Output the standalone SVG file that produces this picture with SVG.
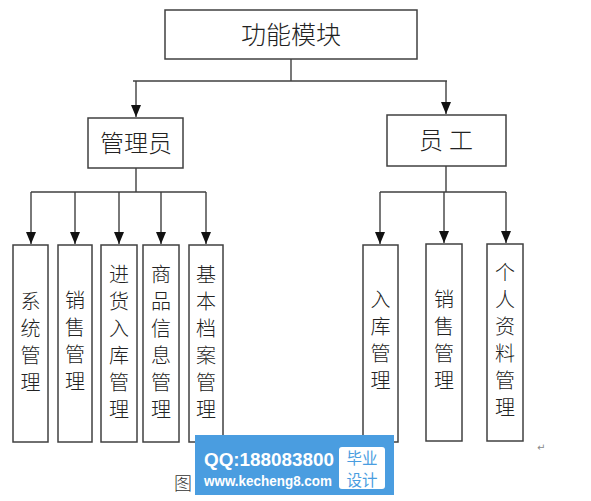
<svg xmlns="http://www.w3.org/2000/svg" width="591" height="501" viewBox="0 0 591 501">
<style>
.box{fill:#fff;stroke:#404040;stroke-width:1.5}
.ln{fill:none;stroke:#404040;stroke-width:1.4}
.t{font-family:"Noto Sans CJK SC",sans-serif;font-weight:300;fill:#222;text-anchor:middle}
.big{font-size:25px}
.mid{font-size:24px}
.v{font-size:20px}
</style>
<defs>
<marker id="ah" viewBox="0 0 12 10" refX="12" refY="5" markerWidth="12" markerHeight="10" markerUnits="userSpaceOnUse" orient="auto">
<path d="M0,0 L12,5 L0,10 Z" fill="#111"/>
</marker>
</defs>
<rect width="591" height="501" fill="#fff"/>
<g id="connectors">
<path class="ln" d="M291,59 V81 M133,81 H447"/>
<path class="ln" d="M136,81 V117" marker-end="url(#ah)"/>
<path class="ln" d="M446,81 V114" marker-end="url(#ah)"/>
<path class="ln" d="M136,168 V192 M31,192 H206"/>
<path class="ln" d="M31,192 V244" marker-end="url(#ah)"/>
<path class="ln" d="M75,192 V244" marker-end="url(#ah)"/>
<path class="ln" d="M119,192 V244" marker-end="url(#ah)"/>
<path class="ln" d="M161,192 V244" marker-end="url(#ah)"/>
<path class="ln" d="M206,192 V244" marker-end="url(#ah)"/>
<path class="ln" d="M446,166 V192 M380,192 H506"/>
<path class="ln" d="M380,192 V244" marker-end="url(#ah)"/>
<path class="ln" d="M444,192 V243" marker-end="url(#ah)"/>
<path class="ln" d="M506,192 V243" marker-end="url(#ah)"/>
</g>
<g id="root"><rect class="box" x="165" y="10" width="252" height="49"/><text class="t big" x="291" y="44">功能模块</text></g>
<g id="admin"><rect class="box" x="88" y="118" width="95" height="50"/><text class="t mid" x="136" y="152">管理员</text></g>
<g id="staff"><rect class="box" x="387" y="115" width="119" height="51"/><text class="t mid" x="449" y="149" letter-spacing="6">员工</text></g>
<g id="n1"><rect class="box" x="13" y="245" width="35" height="197"/>
<text class="t v"><tspan x="30.5" y="309">系</tspan><tspan x="30.5" y="336">统</tspan><tspan x="30.5" y="363">管</tspan><tspan x="30.5" y="390">理</tspan></text></g>
<g id="n2"><rect class="box" x="58" y="245" width="34" height="197"/>
<text class="t v"><tspan x="75" y="308">销</tspan><tspan x="75" y="335">售</tspan><tspan x="75" y="362">管</tspan><tspan x="75" y="389">理</tspan></text></g>
<g id="n3"><rect class="box" x="101" y="245" width="36" height="197"/>
<text class="t v"><tspan x="119" y="282">进</tspan><tspan x="119" y="309">货</tspan><tspan x="119" y="336">入</tspan><tspan x="119" y="363">库</tspan><tspan x="119" y="390">管</tspan><tspan x="119" y="417">理</tspan></text></g>
<g id="n4"><rect class="box" x="143" y="245" width="36" height="197"/>
<text class="t v"><tspan x="161" y="282">商</tspan><tspan x="161" y="309">品</tspan><tspan x="161" y="336">信</tspan><tspan x="161" y="363">息</tspan><tspan x="161" y="390">管</tspan><tspan x="161" y="417">理</tspan></text></g>
<g id="n5"><rect class="box" x="189" y="245" width="34" height="197"/>
<text class="t v"><tspan x="206" y="282">基</tspan><tspan x="206" y="309">本</tspan><tspan x="206" y="336">档</tspan><tspan x="206" y="363">案</tspan><tspan x="206" y="390">管</tspan><tspan x="206" y="417">理</tspan></text></g>
<g id="n6"><rect class="box" x="363" y="245" width="35" height="197"/>
<text class="t v"><tspan x="380.5" y="307">入</tspan><tspan x="380.5" y="334">库</tspan><tspan x="380.5" y="361">管</tspan><tspan x="380.5" y="388">理</tspan></text></g>
<g id="n7"><rect class="box" x="426" y="244" width="36" height="197"/>
<text class="t v"><tspan x="444" y="307">销</tspan><tspan x="444" y="334">售</tspan><tspan x="444" y="361">管</tspan><tspan x="444" y="388">理</tspan></text></g>
<g id="n8"><rect class="box" x="487" y="244" width="36" height="197"/>
<text class="t v"><tspan x="505" y="280">个</tspan><tspan x="505" y="307">人</tspan><tspan x="505" y="334">资</tspan><tspan x="505" y="361">料</tspan><tspan x="505" y="388">管</tspan><tspan x="505" y="415">理</tspan></text></g>
<text x="537" y="451" font-family="DejaVu Sans,sans-serif" font-size="10" fill="#888">↵</text>
<text x="174" y="490" font-family="Noto Sans CJK SC,sans-serif" font-weight="300" font-size="18" fill="#333">图</text>
<g id="watermark">
<rect x="195" y="435" width="199" height="60" fill="#4a9de0"/>
<text x="204" y="466" font-family="Liberation Sans,Arial,sans-serif" font-size="18" font-weight="bold" fill="#fff" textLength="130" lengthAdjust="spacingAndGlyphs">QQ:188083800</text>
<text x="204" y="486" font-family="Liberation Sans,Arial,sans-serif" font-size="14" font-weight="bold" fill="#fff" textLength="128" lengthAdjust="spacingAndGlyphs">www.kecheng8.com</text>
<rect x="339" y="447" width="46" height="42" rx="3" fill="#fff"/>
<text x="362" y="464" font-family="Noto Sans CJK SC,sans-serif" font-size="15.5" fill="#4a9de0" text-anchor="middle">毕业</text>
<text x="362" y="486" font-family="Noto Sans CJK SC,sans-serif" font-size="15.5" fill="#4a9de0" text-anchor="middle">设计</text>
</g>
</svg>
